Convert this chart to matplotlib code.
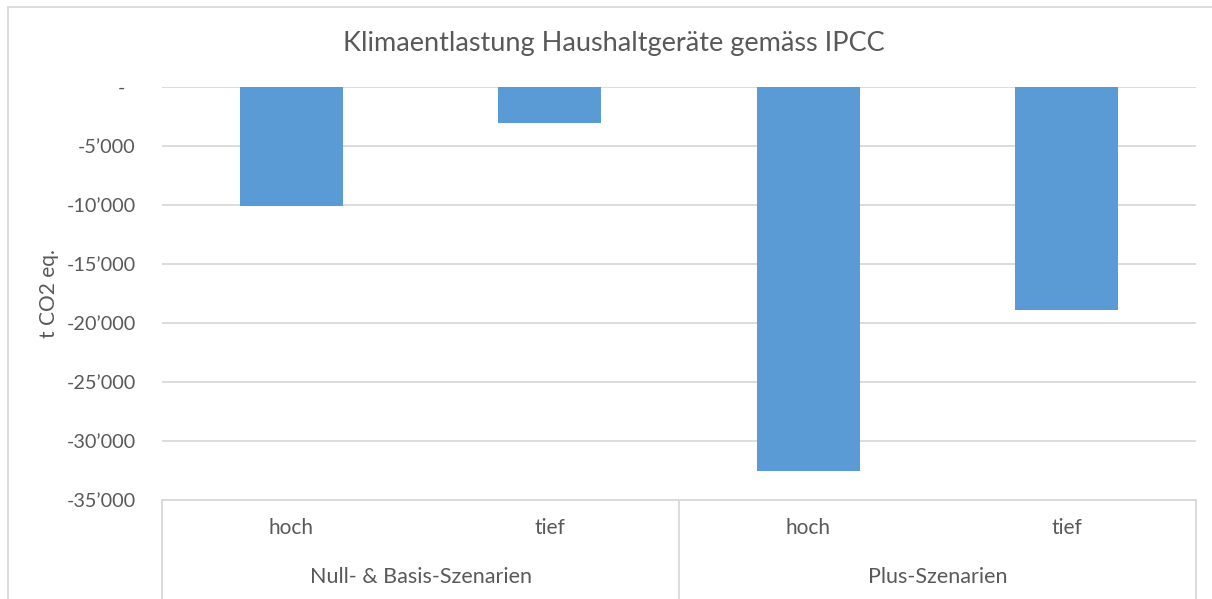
import matplotlib.pyplot as plt
from matplotlib.lines import Line2D
from matplotlib.ticker import FuncFormatter
import matplotlib.transforms as mtransforms

# Data
scenarios = ['hoch', 'tief', 'hoch', 'tief']
groups = ['Null- & Basis-Szenarien', 'Plus-Szenarien']
values = [-10050, -3050, -32550, -18900]
yticks = [0, -5000, -10000, -15000, -20000, -25000, -30000, -35000]

bar_color = '#5B9BD5'
text_color = '#595959'
grid_color = '#D9D9D9'

plt.rcParams['font.family'] = ['Lato', 'DejaVu Sans']

W, H = 1212, 599
fig = plt.figure(figsize=(W / 100, H / 100), dpi=100)
ax = fig.add_axes([162 / W, 1 - 500 / H, (1196 - 162) / W, (500 - 87) / H])

x = list(range(len(values)))
ax.bar(x, values, width=0.4, color=bar_color, zorder=3)

ax.set_xlim(-0.5, len(values) - 0.5)
ax.set_ylim(-35000, 0)
ax.set_yticks(yticks)

def fmt(v, pos):
    if v == 0:
        return '-  '
    return f'{v:,.0f}'.replace(',', '\u2019')

ax.yaxis.set_major_formatter(FuncFormatter(fmt))
ax.tick_params(axis='y', length=0, pad=19, labelsize=14.3, labelcolor=text_color)
ax.set_xticks([])
ax.grid(axis='y', color=grid_color, linewidth=1.3, zorder=0)
for s in ['top', 'right', 'left']:
    ax.spines[s].set_visible(False)
ax.spines['bottom'].set_color(grid_color)
ax.spines['bottom'].set_linewidth(1.3)

ax.set_ylabel('t CO2 eq.', fontsize=15, color=text_color)
ax.yaxis.set_label_coords(-103 / (1196 - 162), 0.5)

# multi-level category axis
trans = mtransforms.blended_transform_factory(ax.transData, ax.transAxes)
px = 1 / (500 - 87)
for i, lab in enumerate(scenarios):
    ax.text(i, -28 * px, lab, transform=trans, ha='center', va='center',
            fontsize=15, color=text_color)
for g, lab in enumerate(groups):
    ax.text(2 * g + 0.5, -77 * px, lab, transform=trans, ha='center', va='center',
            fontsize=15.5, color=text_color)
for xv in [-0.5, 1.5, 3.5]:
    ax.plot([xv, xv], [0, -100 * px], transform=trans, color=grid_color,
            linewidth=1.3, clip_on=False)

fig.text(614 / W, 1 - 44 / H, 'Klimaentlastung Haushaltgeräte gemäss IPCC',
         ha='center', va='center', fontsize=19.5, color=text_color)

# chart border (top and left visible)
fig.add_artist(Line2D([8 / W, 1.01], [1 - 7 / H, 1 - 7 / H], color=grid_color,
                      linewidth=1.3, transform=fig.transFigure))
fig.add_artist(Line2D([8 / W, 8 / W], [1 - 7 / H, -0.01], color=grid_color,
                      linewidth=1.3, transform=fig.transFigure))

fig.savefig('out.png', dpi=100)
